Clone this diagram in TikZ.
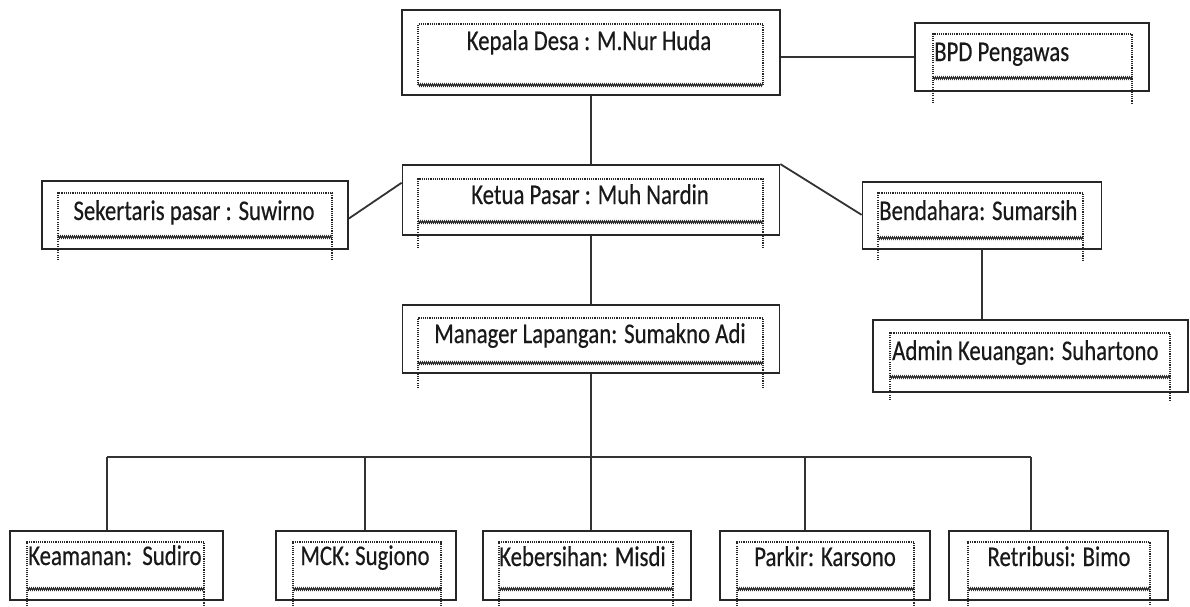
\documentclass[tikz,border=0pt]{standalone}
\usepackage{fontspec}
\setmainfont{Carlito}[FakeStretch=0.8,FakeBold=0.4]
\usetikzlibrary{calc,decorations.pathmorphing}
\tikzstyle{box} = [draw,line width=1.8pt,black!85,minimum height=68pt,inner sep=0pt]
\tikzstyle{lbl} = [inner sep=0pt,anchor=base,text=black!90,font=\fontsize{28.5}{34}\selectfont]
\tikzstyle{textframe} = [draw,black!85,line width=1.1pt,dash pattern=on 1.1pt off 1.1pt]
\tikzstyle{wavy} = [draw,black!85,line width=0.9pt,decorate,decoration={zigzag,amplitude=1.2pt,segment length=2pt}]
\tikzstyle{link} = [draw,line width=1.8pt,black!80]

\begin{document}
\begin{tikzpicture}[x=1pt,y=-1pt]
   \useasboundingbox (0,0) rectangle (1190,606);

   \node[box,minimum width=378pt,minimum height=85pt] (kades) at (591,52.5) {};
   \node[box,minimum width=234pt] (bpd) at (1032,57) {};
   \node[box,minimum width=377pt,minimum height=70pt] (ketua) at (591,200) {};
   \node[box,minimum width=306pt] (sekr) at (195,215) {};
   \node[box,minimum width=239pt,minimum height=67pt] (bendahara) at (982,215.5) {};
   \node[box,minimum width=377pt] (manager) at (591,339) {};
   \node[box,minimum width=315pt,minimum height=72pt] (admin) at (1030.5,356) {};
   \node[box,minimum width=213pt,minimum height=69pt] (keamanan) at (116.5,565.5) {};
   \node[box,minimum width=180pt,minimum height=69pt] (mck) at (366,565.5) {};
   \node[box,minimum width=208pt,minimum height=69pt] (kebersihan) at (587,565.5) {};
   \node[box,minimum width=210pt,minimum height=69pt] (parkir) at (825,565.5) {};
   \node[box,minimum width=219pt,minimum height=69pt] (retribusi) at (1058.5,565.5) {};

   % dotted text frames
   \draw[textframe] (418,85) -- (418,24) -- (763,24) -- (763,85);
   \draw[wavy] (418,85) -- (763,85);
   \draw[textframe] (933,103) -- (933,34) -- (1132,34) -- (1132,103);
   \draw[wavy] (933,78) -- (1132,78);
   \draw[textframe] (418,248) -- (418,179) -- (763,179) -- (763,248);
   \draw[wavy] (418,222) -- (763,222);
   \draw[textframe] (58,260) -- (58,193) -- (332,193) -- (332,260);
   \draw[wavy] (58,237) -- (332,237);
   \draw[textframe] (878,260) -- (878,193) -- (1083,193) -- (1083,260);
   \draw[wavy] (878,238) -- (1083,238);
   \draw[textframe] (418,388) -- (418,318) -- (763,318) -- (763,388);
   \draw[wavy] (418,363) -- (763,363);
   \draw[textframe] (890,400) -- (890,333) -- (1170,333) -- (1170,400);
   \draw[wavy] (890,377) -- (1170,377);
   \draw[textframe] (27,606) -- (27,542) -- (204,542) -- (204,606);
   \draw[wavy] (27,589) -- (204,589);
   \draw[textframe] (293,606) -- (293,542) -- (441,542) -- (441,606);
   \draw[wavy] (293,589) -- (441,589);
   \draw[textframe] (499,606) -- (499,542) -- (673,542) -- (673,606);
   \draw[wavy] (499,589) -- (673,589);
   \draw[textframe] (737,606) -- (737,542) -- (914,542) -- (914,606);
   \draw[wavy] (737,589) -- (914,589);
   \draw[textframe] (968,606) -- (968,542) -- (1150,542) -- (1150,606);
   \draw[wavy] (968,589) -- (1150,589);

   \node[lbl] (kades-l) at (589,50) {Kepala Desa : M.Nur Huda};
   \node[lbl,anchor=base west] (bpd-l) at (934,61) {BPD Pengawas};
   \node[lbl] (ketua-l) at (590,204) {Ketua Pasar : Muh Nardin};
   \node[lbl] (sekr-l) at (194,220) {Sekertaris pasar : Suwirno};
   \node[lbl,anchor=base west] (bendahara-l) at (879,220) {Bendahara: Sumarsih};
   \node[lbl] (manager-l) at (590,343) {Manager Lapangan: Sumakno Adi};
   \node[lbl,anchor=base west] (admin-l) at (892,360) {Admin Keuangan: Suhartono};
   \node[lbl,anchor=base west] (keamanan-l) at (28,565) {Keamanan:\ \ Sudiro};
   \node[lbl] (mck-l) at (365,565) {MCK: Sugiono};
   \node[lbl,anchor=base west] (kebersihan-l) at (499,566) {Kebersihan: Misdi};
   \node[lbl] (parkir-l) at (825,566) {Parkir: Karsono};
   \node[lbl] (retribusi-l) at (1059,566) {Retribusi: Bimo};

   \coordinate (b1) at (107,457);
   \coordinate (b2) at (365,457);
   \coordinate (b3) at (manager.south |- b1);
   \coordinate (b4) at (805,457);
   \coordinate (b5) at (1031,457);

   \path[link] (kades.south) -- (ketua.north);
   \path[link] (bpd.west) -- (bpd.west -| kades.east);
   \path[link] ($(sekr.north east)!0.55!(sekr.south east)$) -- ($(ketua.north west)!0.26!(ketua.south west)$);
   \path[link] (ketua.north east) -- ($(bendahara.north west)!0.49!(bendahara.south west)$);
   \path[link] (bendahara.south) -- (bendahara.south |- admin.north);
   \path[link] (ketua.south) -- (manager.north);
   \path[link] (manager.south) -- (b3);
   \path[link] (b1) -- (b5);
   \path[link] (b1) -- (b1 |- keamanan.north);
   \path[link] (b2) -- (b2 |- mck.north);
   \path[link] (b3) -- (b3 |- kebersihan.north);
   \path[link] (b4) -- (b4 |- parkir.north);
   \path[link] (b5) -- (b5 |- retribusi.north);

\end{tikzpicture}
\end{document}
